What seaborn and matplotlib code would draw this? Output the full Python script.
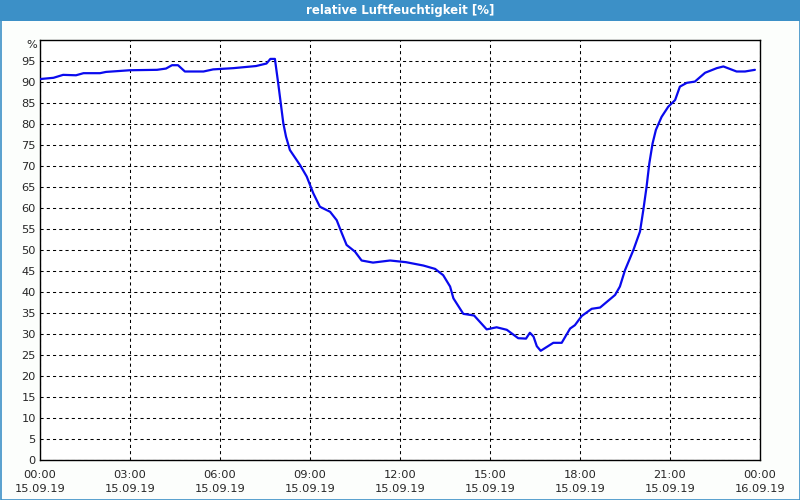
import matplotlib
matplotlib.use("Agg")
import matplotlib.pyplot as plt
from matplotlib.patches import Rectangle
from matplotlib.ticker import MultipleLocator
import seaborn as sns
import pandas as pd

# --- data (hours since 15.09.19 00:00, relative humidity %) ---
hours = [0.0, 0.45, 0.77, 1.2, 1.45, 2.0, 2.2, 3.0, 3.9, 4.2, 4.4, 4.6, 4.83, 5.45,
         5.77, 6.45, 6.9, 7.2, 7.55, 7.68, 7.83, 7.94, 8.11, 8.2, 8.33, 8.67, 8.89,
         9.11, 9.33, 9.67, 9.89, 10.06, 10.22, 10.5, 10.72, 11.1, 11.67, 12.2, 12.78,
         13.17, 13.44, 13.67, 13.78, 14.11, 14.47, 14.89, 15.22, 15.56, 15.94, 16.2,
         16.33, 16.45, 16.56, 16.69, 17.11, 17.39, 17.67, 17.83, 18.06, 18.39, 18.67,
         19.17, 19.33, 19.5, 19.78, 20.0, 20.11, 20.22, 20.31, 20.42, 20.53, 20.72,
         20.94, 21.17, 21.33, 21.56, 21.83, 22.17, 22.56, 22.78, 23.22, 23.5, 23.83]
humidity = [90.7, 91.0, 91.7, 91.6, 92.1, 92.1, 92.4, 92.8, 92.9, 93.2, 94.0, 94.0, 92.5,
            92.5, 93.0, 93.3, 93.6, 93.8, 94.4, 95.5, 95.5, 89.7, 80.2, 77.0, 73.8, 70.2,
            67.5, 63.5, 60.3, 59.1, 57.1, 54.0, 51.2, 49.6, 47.5, 47.0, 47.5, 47.1, 46.3,
            45.5, 44.0, 41.3, 38.5, 34.8, 34.4, 31.1, 31.6, 31.0, 29.0, 28.9, 30.3, 29.4,
            27.1, 26.0, 27.9, 27.9, 31.3, 32.1, 34.3, 36.0, 36.3, 39.3, 41.3, 45.2, 50.0,
            54.4, 59.5, 65.1, 70.6, 75.4, 78.6, 81.7, 84.1, 85.7, 88.9, 89.8, 90.1, 92.2,
            93.3, 93.7, 92.5, 92.5, 92.9]
x_ticks = [0, 3, 6, 9, 12, 15, 18, 21, 24]
x_labels = ["00:00\n15.09.19", "03:00\n15.09.19", "06:00\n15.09.19", "09:00\n15.09.19",
            "12:00\n15.09.19", "15:00\n15.09.19", "18:00\n15.09.19", "21:00\n15.09.19",
            "00:00\n16.09.19"]
y_ticks = list(range(0, 100, 5))
title = "relative Luftfeuchtigkeit [%]"

df = pd.DataFrame({"h": hours, "rh": humidity})

sns.set_style("white")
plt.rcParams["font.family"] = ["DejaVu Sans"]

fig = plt.figure(figsize=(8, 5), dpi=100)
fig.patch.set_facecolor("#fcfefc")
blue = "#3c90c7"
# title bar and border
fig.patches.append(Rectangle((0, 1 - 21 / 500), 1, 21 / 500, transform=fig.transFigure,
                             facecolor=blue, edgecolor="none", zorder=0))
fig.patches.append(Rectangle((0.5 / 800, 0.5 / 500), 1 - 1 / 800, 1 - 1 / 500,
                             transform=fig.transFigure, facecolor="none",
                             edgecolor=blue, linewidth=1.2, zorder=0))
fig.text(0.5, 1 - 10.5 / 500, title, color="white", fontsize=8.5, fontweight="bold",
         ha="center", va="center")

ax = fig.add_axes([40 / 800, 40 / 500, 720 / 800, 420 / 500])
ax.set_facecolor("white")
sns.lineplot(data=df, x="h", y="rh", ax=ax, color="#0a0aee", linewidth=1.6, zorder=3)

ax.set_xlim(0, 24)
ax.set_ylim(0, 100)
ax.set_xticks(x_ticks)
ax.set_xticklabels(x_labels, fontsize=8.2, linespacing=1.55)
ax.xaxis.set_minor_locator(MultipleLocator(1))
ax.set_yticks(y_ticks)
ax.set_yticklabels([str(v) for v in y_ticks], fontsize=8.2)
ax.tick_params(axis="x", which="both", direction="out", length=3, width=0.8,
               color="black", pad=4)
ax.tick_params(axis="y", length=0, pad=3)
ax.set_xlabel("")
ax.set_ylabel("")
for s in ax.spines.values():
    s.set_visible(True)
    s.set_color("black")
    s.set_linewidth(1.0)

ax.grid(True, which="major", color="black", linestyle=(0, (3, 3)), linewidth=0.75)
ax.set_axisbelow(True)
ax.text(-0.004, 1 - 5 / 420, "%", transform=ax.transAxes, ha="right", va="center",
        fontsize=8.2)

fig.savefig("out.png", dpi=100, facecolor=fig.get_facecolor())
